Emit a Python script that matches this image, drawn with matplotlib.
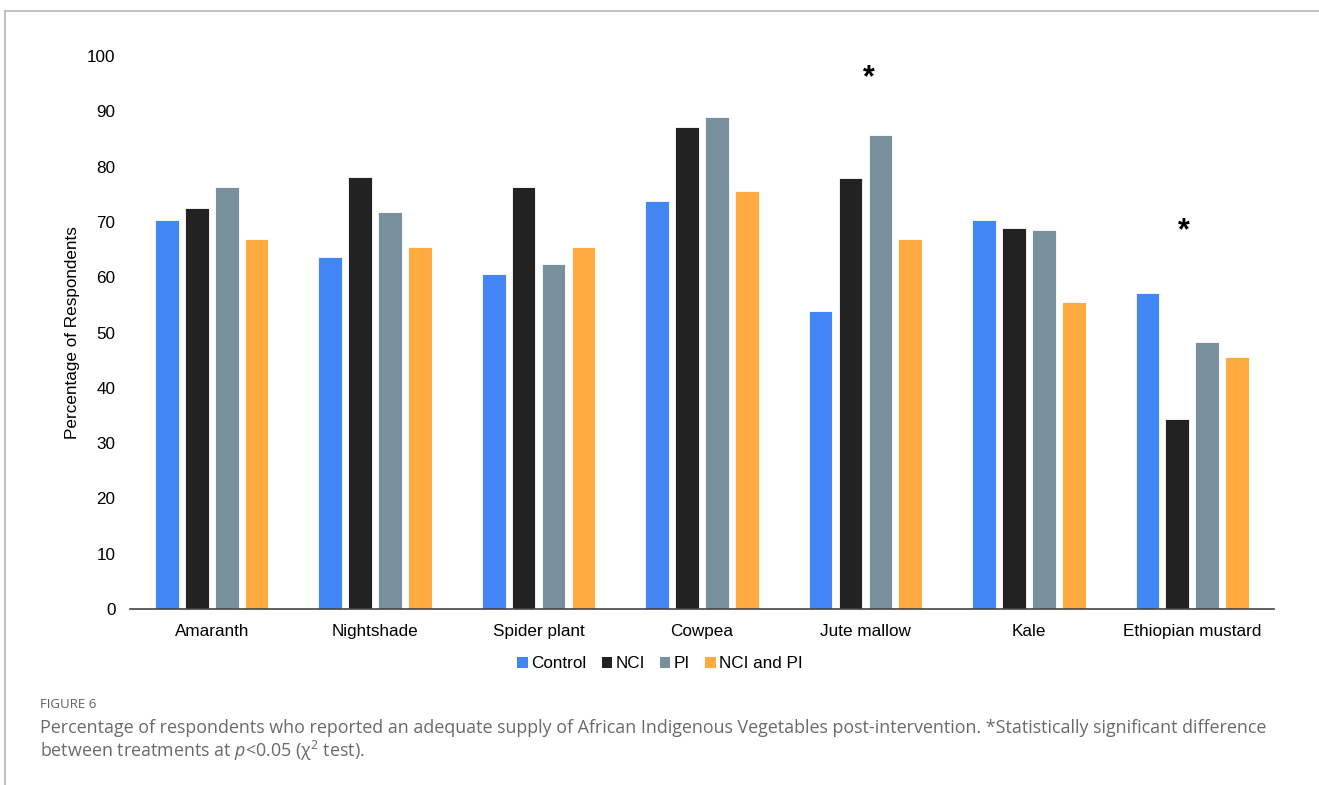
import matplotlib.pyplot as plt
import numpy as np
from matplotlib.patches import Patch
from matplotlib.lines import Line2D

W, H, DPI = 1319, 785, 100

categories = ["Amaranth", "Nightshade", "Spider plant", "Cowpea",
              "Jute mallow", "Kale", "Ethiopian mustard"]
control = [70.4, 63.7, 60.6, 73.7, 53.9, 70.4, 57.2]
nci = [72.5, 78.1, 76.3, 87.1, 78.0, 68.9, 34.4]
pi = [76.4, 71.7, 62.3, 88.9, 85.7, 68.6, 48.2]
nci_and_pi = [66.9, 65.5, 65.5, 75.5, 66.9, 55.5, 45.5]
series_names = ["Control", "NCI", "PI", "NCI and PI"]
colors = ["#4285F4", "#222222", "#78909C", "#FFAB40"]

# significance markers: (category, x offset, height)
sig_marks = [("Jute mallow", 0.02, 96.0), ("Ethiopian mustard", -0.05, 68.3)]

yticks = list(range(0, 101, 10))

plt.rcParams['font.family'] = ['Liberation Sans', 'DejaVu Sans']

fig = plt.figure(figsize=(W / DPI, H / DPI), dpi=DPI)

def px_axes(left, top, right, bottom):
    return [left / W, 1 - bottom / H, (right - left) / W, (bottom - top) / H]

ax = fig.add_axes(px_axes(130, 56, 1274, 609))

x = np.arange(len(categories))
pitch = 0.183
width = 0.145
for i, (vals, name, c) in enumerate(zip([control, nci, pi, nci_and_pi], series_names, colors)):
    ax.bar(x + (i - 1.5) * pitch, vals, width, color=c, edgecolor="white",
           linewidth=0.6, label=name, zorder=2)

for cat, dx, h in sig_marks:
    ax.text(categories.index(cat) + dx, h, "*", ha="center", va="center",
            fontsize=22, fontweight="bold", color="black")

ax.set_xlim(-0.5, len(categories) - 0.5)
ax.set_ylim(0, 100)
ax.set_yticks(yticks)
ax.set_xticks(x)
ax.set_xticklabels(categories)
ax.tick_params(axis="both", length=0, labelsize=12.3, colors="black")
ax.tick_params(axis="y", pad=10.5)
ax.tick_params(axis="x", pad=11)
for s in ["top", "left", "right"]:
    ax.spines[s].set_visible(False)
ax.spines["bottom"].set_color("#444444")
ax.spines["bottom"].set_linewidth(1.2)
ax.set_ylabel("Percentage of Respondents", fontsize=12.3, labelpad=5)

handles = [Patch(facecolor=c, edgecolor="none") for c in colors]
fig.legend(handles, series_names, loc="center", bbox_to_anchor=(660 / W, 1 - 664 / H),
           ncol=4, frameon=False, fontsize=12.3, handlelength=0.6, handleheight=0.6,
           handletextpad=0.2, columnspacing=0.9)

# page frame lines
fig.add_artist(Line2D([5 / W, 1], [1 - 11 / H, 1 - 11 / H], color="#b5b5b5", lw=1.2))
fig.add_artist(Line2D([5 / W, 5 / W], [0, 1 - 11 / H], color="#b5b5b5", lw=1.2))

plt.rcParams['mathtext.fontset'] = 'custom'
plt.rcParams['mathtext.rm'] = 'Open Sans'
plt.rcParams['mathtext.it'] = 'Open Sans:italic'

cap_font = ['Open Sans', 'DejaVu Sans']
fig.text(40 / W, 1 - 705 / H, "FIGURE 6", family=cap_font, fontsize=9.5,
         color="#5f5f5f", va="center", ha="left")
fig.text(40 / W, 1 - 728 / H,
         "Percentage of respondents who reported an adequate supply of African Indigenous "
         "Vegetables post-intervention. *Statistically significant difference",
         family=cap_font, fontsize=12.9, color="#6a6a6a", va="center", ha="left")
fig.text(40 / W, 1 - 751 / H, r"between treatments at $p$<0.05 (χ$^2$ test).",
         family=cap_font, fontsize=12.9, color="#6a6a6a", va="center", ha="left")

fig.savefig("out.png", dpi=DPI)
